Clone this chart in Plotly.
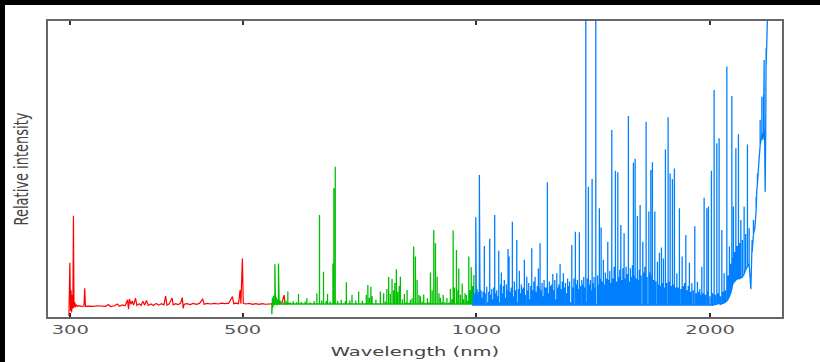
import math
import plotly.graph_objects as go

# ---------------- data (wavelength in nm, relative intensity) ----------------
red_nm = [
    298.8, 299.6, 300.2, 300.7, 301.2, 301.8, 302.3, 302.8, 303.3, 303.9,
    304.6, 305.4, 306.5, 308.0, 310.0, 312.4, 313.1, 313.8, 317.0, 321.0,
    325.0, 329.0, 333.0, 336.0, 338.0, 342.0, 345.0, 347.0, 350.0, 353.0,
    355.5, 356.5, 357.5, 359.0, 360.5, 362.0, 364.0, 365.5, 368.0, 370.0,
    372.0, 374.0, 376.0, 378.0, 381.0, 384.0, 387.0, 390.0, 393.0, 396.0,
    398.0, 399.5, 402.0, 405.7, 407.0, 410.0, 413.0, 416.0, 418.2, 419.2,
    420.5, 424.0, 428.0, 432.0, 436.0, 440.0, 444.3, 446.0, 450.0, 455.0,
    460.0, 465.0, 470.0, 475.0, 480.0, 485.2, 487.0, 490.0, 494.0, 496.3,
    497.5, 499.7, 501.0, 505.0, 510.0, 515.0, 520.0, 525.0, 530.0, 535.0,
    540.0, 545.0, 550.0, 555.0, 558.0, 562.0, 565.5, 567.0, 571.0, 575.0]
red_int = [
    0.3, 18.3, 2.0, 9.0, 1.5, 7.4, 2.8, 34.2, 3.2, 5.0,
    3.3, 4.2, 3.6, 3.8, 3.6, 3.7, 9.7, 3.6, 3.7, 3.6,
    3.8, 3.7, 3.6, 4.2, 3.5, 3.8, 4.4, 3.6, 4.1, 3.8,
    5.8, 2.6, 6.1, 4.3, 5.4, 4.0, 6.4, 3.9, 4.5, 3.9,
    5.3, 4.0, 5.6, 3.9, 4.4, 3.9, 4.6, 4.0, 4.5, 4.1,
    7.1, 4.0, 4.4, 6.4, 4.1, 4.5, 4.2, 4.6, 6.6, 2.9,
    4.3, 4.5, 4.2, 4.6, 4.3, 4.6, 6.1, 4.3, 4.6, 4.4,
    4.6, 4.4, 4.7, 4.5, 4.7, 6.9, 4.5, 4.7, 4.5, 9.1,
    4.5, 19.8, 4.6, 4.4, 4.6, 4.3, 4.5, 4.3, 4.5, 4.3,
    4.4, 4.3, 4.5, 5.3, 4.4, 5.0, 7.4, 4.4, 4.6, 4.5]

green_nm = [
    545.3, 546.3, 547.1, 548.0, 548.8, 550.2, 551.2, 552.4, 553.7, 554.8,
    556.1, 557.3, 558.9, 560.6, 562.2, 563.9, 565.6, 567.3, 568.9, 571.8,
    573.2, 575.8, 578.4, 581.0, 584.4, 587.0, 590.2, 592.3, 594.9, 598.5,
    602.0, 605.0, 607.4, 611.0, 614.6, 618.3, 621.0, 623.2, 625.7, 628.1,
    629.9, 632.2, 635.6, 637.8, 640.7, 643.2, 645.5, 648.4, 651.3, 653.6,
    655.4, 658.1, 660.0, 663.0, 666.0, 669.9, 674.0, 678.1, 680.1, 683.2,
    687.1, 691.6, 695.3, 699.5, 705.4, 708.8, 713.1, 717.3, 721.6, 724.9,
    728.1, 731.4, 734.0, 738.0, 742.4, 747.8, 752.2, 755.6, 759.7, 763.5,
    766.9, 771.0, 774.9, 778.8, 782.5, 785.3, 788.8, 791.9, 795.5, 798.3,
    803.1, 807.8, 811.5, 814.4, 818.7, 822.3, 826.5, 830.4, 834.7, 838.9,
    843.4, 847.1, 851.4, 855.5, 859.8, 864.9, 868.8, 872.7, 877.1, 881.4,
    885.8, 890.3, 895.1, 898.9, 902.9, 906.2, 911.0, 916.4, 921.9, 926.0,
    930.1, 933.5, 937.1, 942.7, 946.9, 949.2, 954.0, 958.8, 962.5, 966.9,
    971.2, 974.7, 977.9, 981.4, 984.9, 988.8, 992.6, 996.2, 1000.0]
green_int = [
    0.9, 6.5, 3.2, 7.2, 4.0, 17.8, 4.2, 6.8, 3.9, 6.0,
    18.1, 4.3, 5.6, 4.2, 5.0, 4.4, 5.2, 4.3, 5.5, 8.6,
    4.4, 5.0, 4.3, 5.3, 4.4, 5.0, 7.8, 4.4, 5.1, 4.3,
    5.2, 6.3, 4.4, 5.0, 4.3, 5.4, 4.4, 8.0, 4.5, 34.5,
    4.6, 5.6, 15.3, 4.5, 5.4, 7.8, 4.5, 5.2, 4.6, 18.1,
    43.5, 50.8, 4.6, 5.4, 4.4, 5.8, 4.5, 5.3, 11.7, 4.5,
    5.6, 7.4, 4.4, 5.6, 8.6, 4.5, 5.5, 4.4, 7.5, 10.8,
    6.5, 10.2, 7.0, 4.6, 5.8, 4.5, 8.6, 4.6, 8.0, 5.2,
    9.5, 13.5, 7.8, 12.8, 9.0, 11.5, 16.1, 8.5, 10.5, 13.6,
    6.0, 7.8, 5.0, 9.1, 4.8, 5.8, 6.3, 23.8, 20.4, 12.5,
    7.5, 7.0, 5.2, 7.6, 4.8, 6.3, 5.0, 15.0, 9.0, 29.4,
    24.9, 13.6, 8.0, 6.5, 5.0, 7.4, 5.0, 6.4, 4.9, 9.5,
    6.0, 29.2, 10.0, 22.6, 9.0, 16.4, 7.5, 11.3, 6.0, 8.0,
    7.4, 5.5, 20.4, 9.0, 16.8, 10.5, 14.2, 7.0, 5.0]
green_floor = 4.4

blue_nm = [
    989.4, 991.7, 994.0, 996.2, 998.3, 1000.0, 1002.1, 1004.5, 1006.6, 1008.9,
    1011.0, 1014.0, 1017.0, 1020.0, 1023.9, 1026.7, 1031.3, 1034.3, 1037.4, 1040.4,
    1043.6, 1046.7, 1049.7, 1052.8, 1055.9, 1059.2, 1062.3, 1065.5, 1068.6, 1071.8,
    1074.4, 1076.9, 1080.1, 1083.3, 1086.5, 1089.8, 1093.0, 1095.9, 1098.5, 1101.8,
    1105.1, 1109.0, 1112.7, 1116.0, 1119.2, 1123.3, 1127.3, 1130.6, 1133.3, 1136.0,
    1139.4, 1142.8, 1146.2, 1149.6, 1153.0, 1156.4, 1161.2, 1164.7, 1168.1, 1171.6,
    1175.0, 1178.5, 1182.0, 1185.9, 1190.2, 1193.7, 1198.0, 1201.9, 1205.1, 1207.9,
    1211.5, 1215.1, 1218.7, 1222.3, 1226.0, 1230.4, 1234.4, 1238.0, 1241.7, 1245.4,
    1249.9, 1254.3, 1258.0, 1261.7, 1265.5, 1269.3, 1273.0, 1277.2, 1281.8, 1285.6,
    1290.2, 1294.4, 1298.2, 1302.1, 1305.9, 1310.6, 1314.4, 1318.3, 1322.4, 1327.1,
    1331.0, 1335.3, 1341.3, 1345.3, 1349.3, 1353.2, 1357.2, 1361.3, 1367.0, 1371.0,
    1375.0, 1379.1, 1383.4, 1386.7, 1389.9, 1394.0, 1398.1, 1402.3, 1406.1, 1409.4,
    1413.6, 1417.7, 1421.1, 1425.0, 1429.2, 1432.6, 1435.9, 1440.1, 1444.2, 1447.6,
    1451.9, 1457.5, 1461.7, 1466.1, 1471.3, 1476.5, 1480.9, 1485.2, 1489.8, 1494.2,
    1498.6, 1504.4, 1507.0, 1510.3, 1515.7, 1521.1, 1525.6, 1530.1, 1534.7, 1539.2,
    1544.2, 1549.7, 1554.4, 1559.0, 1564.6, 1569.6, 1574.3, 1579.0, 1583.7, 1588.4,
    1593.1, 1597.3, 1601.2, 1606.9, 1612.1, 1616.9, 1621.2, 1625.1, 1629.9, 1638.1,
    1643.0, 1648.3, 1654.3, 1659.2, 1667.5, 1672.4, 1677.5, 1681.5, 1685.4, 1691.4,
    1697.4, 1703.0, 1710.6, 1715.7, 1720.7, 1725.9, 1731.1, 1736.2, 1741.3, 1746.4,
    1751.8, 1758.0, 1765.8, 1771.0, 1776.3, 1782.6, 1788.4, 1793.7, 1799.0, 1805.6,
    1812.0, 1819.0, 1825.9, 1833.6, 1840.7, 1847.2, 1854.2, 1861.0, 1868.1, 1874.8,
    1880.8, 1887.7, 1894.4, 1902.8, 1911.2, 1918.7, 1926.1, 1932.9, 1939.7, 1945.6,
    1951.4, 1957.8, 1964.7, 1972.4, 1980.5, 1985.2, 1989.9, 1998.7, 2007.7, 2015.4,
    2023.8, 2031.7, 2040.2, 2046.8, 2054.0, 2062.0, 2070.6, 2077.3, 2084.7, 2092.9,
    2101.6, 2109.6, 2117.7, 2125.5, 2133.0, 2138.1, 2143.1, 2150.7, 2158.5, 2166.8,
    2175.1, 2182.8, 2190.6, 2201.0, 2212.1, 2222.1, 2234.0, 2245.2, 2256.7, 2265.4,
    2274.1, 2283.4, 2292.4, 2297.1, 2301.2, 2310.7, 2319.8, 2326.7, 2331.5, 2335.0,
    2338.4, 2343.2, 2347.4, 2350.8, 2354.4, 2357.9, 2361.4, 2367.7, 2373.3, 2378.9,
    2383.8]
blue_int = [
    6.0, 9.0, 7.0, 8.0, 33.7, 5.5, 9.5, 7.5, 8.5, 48.0,
    7.0, 9.0, 6.5, 8.5, 24.0, 8.0, 10.2, 5.0, 8.5, 26.4,
    7.5, 9.5, 6.0, 10.0, 34.5, 8.0, 9.0, 7.0, 22.4, 5.0,
    11.0, 15.0, 8.0, 10.5, 12.5, 6.5, 11.0, 9.0, 23.0, 20.4,
    8.5, 10.0, 32.2, 7.0, 12.0, 9.0, 26.0, 5.0, 9.5, 15.6,
    8.0, 11.0, 9.5, 10.0, 19.3, 7.5, 13.6, 9.0, 11.5, 6.0,
    10.5, 23.2, 9.0, 12.0, 13.6, 8.5, 10.5, 16.4, 10.0, 24.9,
    9.0, 11.5, 7.0, 12.5, 10.0, 10.0, 45.5, 8.0, 12.0, 10.5,
    11.0, 14.5, 9.0, 12.5, 6.0, 14.8, 10.0, 11.0, 17.9, 9.5,
    12.0, 14.8, 10.0, 11.5, 8.0, 13.0, 10.5, 12.0, 5.0, 24.3,
    10.0, 13.0, 28.8, 11.0, 12.5, 9.5, 28.6, 10.5, 12.5, 11.0,
    13.5, 10.0, 112.0, 5.0, 13.0, 44.0, 11.0, 12.5, 9.0, 46.6,
    11.5, 13.5, 10.0, 105.0, 4.5, 14.0, 11.0, 36.7, 13.0, 30.2,
    12.0, 19.3, 11.0, 15.0, 13.0, 25.4, 12.5, 15.5, 11.5, 63.2,
    13.0, 17.0, 14.0, 49.4, 12.0, 48.9, 13.5, 16.0, 31.1, 12.5,
    16.5, 28.3, 13.0, 17.0, 14.5, 67.9, 12.0, 16.5, 13.5, 17.5,
    52.1, 14.0, 53.5, 13.0, 34.1, 12.5, 16.0, 37.8, 14.0, 25.4,
    15.0, 17.0, 66.0, 13.5, 35.6, 15.0, 49.7, 14.0, 52.3, 12.5,
    35.6, 12.0, 18.7, 11.0, 21.7, 10.5, 23.5, 11.5, 19.8, 10.0,
    56.6, 11.5, 67.5, 12.0, 48.5, 10.5, 46.6, 11.0, 50.2, 10.0,
    14.8, 10.0, 36.7, 9.5, 20.4, 10.5, 11.5, 27.7, 9.0, 10.5,
    18.3, 8.5, 11.4, 9.0, 30.7, 8.0, 11.9, 8.5, 9.5, 7.5,
    17.0, 8.0, 40.3, 7.5, 36.7, 8.5, 37.3, 7.0, 49.4, 8.0,
    76.7, 7.5, 58.7, 8.0, 60.4, 7.0, 29.4, 8.5, 14.8, 9.0,
    84.6, 14.0, 23.8, 18.0, 74.7, 20.0, 37.3, 22.0, 57.0, 24.0,
    61.7, 25.0, 32.8, 26.0, 37.3, 28.0, 58.3, 30.0, 9.4, 26.0,
    32.8, 30.0, 40.6, 43.0, 48.5, 52.0, 66.6, 60.0, 74.4, 62.0,
    59.8, 75.0, 86.8, 60.0, 42.3, 70.0, 90.8, 96.0, 115.0, 118.0,
    125.0]
blue_floor = [
    4.0, 4.0, 4.0, 4.0, 4.0, 4.0, 4.0, 4.0, 4.0, 4.0,
    4.0, 4.0, 4.0, 4.0, 4.0, 4.0, 4.0, 4.0, 4.0, 4.0,
    4.0, 4.0, 4.0, 4.0, 4.0, 4.0, 4.0, 4.0, 4.0, 4.0,
    4.0, 4.0, 4.0, 4.0, 4.0, 4.0, 4.0, 4.0, 4.0, 4.0,
    4.0, 4.0, 4.0, 4.0, 4.0, 4.0, 4.0, 4.0, 4.0, 4.0,
    4.0, 4.0, 4.0, 4.0, 4.0, 4.0, 4.0, 4.0, 4.0, 4.0,
    4.0, 4.0, 4.0, 4.0, 4.0, 4.0, 4.0, 4.0, 4.0, 4.0,
    4.0, 4.0, 4.0, 4.0, 4.0, 4.0, 4.0, 4.0, 4.0, 4.0,
    4.0, 4.0, 4.0, 4.0, 4.0, 4.0, 4.0, 4.0, 4.0, 4.0,
    4.0, 4.0, 4.0, 4.0, 4.0, 4.0, 4.0, 4.0, 4.0, 4.0,
    4.0, 4.0, 4.0, 4.0, 4.0, 4.0, 4.0, 4.0, 4.0, 4.0,
    4.0, 4.0, 4.0, 4.0, 4.0, 4.0, 4.0, 4.0, 4.0, 4.0,
    4.0, 4.0, 4.0, 4.0, 4.0, 4.0, 4.0, 4.0, 4.0, 4.0,
    4.0, 4.0, 4.0, 4.0, 4.0, 4.0, 4.0, 4.0, 4.0, 4.0,
    4.0, 4.0, 4.0, 4.0, 4.0, 4.0, 4.0, 4.0, 4.0, 4.0,
    4.0, 4.0, 4.0, 4.0, 4.0, 4.0, 4.0, 4.0, 4.0, 4.0,
    4.0, 4.0, 4.0, 4.0, 4.0, 4.0, 4.0, 4.0, 4.0, 4.0,
    4.0, 4.0, 4.0, 4.0, 4.0, 4.0, 4.0, 4.0, 4.0, 4.0,
    4.0, 4.0, 4.0, 4.0, 4.0, 4.0, 4.0, 4.0, 4.0, 4.0,
    4.0, 4.0, 4.0, 4.0, 4.0, 4.0, 4.0, 4.0, 4.0, 4.0,
    4.0, 4.0, 4.0, 4.0, 4.0, 4.0, 4.0, 4.0, 4.0, 4.0,
    4.0, 4.0, 4.0, 4.0, 4.0, 4.0, 4.0, 4.0, 4.0, 4.0,
    4.0, 4.0, 4.0, 4.0, 4.0, 4.0, 4.0, 4.0, 4.0, 4.0,
    4.2, 4.2, 4.3, 4.5, 4.5, 4.3, 4.5, 4.6, 4.8, 5.0,
    5.5, 6.0, 7.0, 8.0, 9.5, 11.0, 11.5, 12.0, 12.5, 12.8,
    13.0, 13.0, 13.2, 13.5, 14.5, 16.0, 17.0, 18.0, 9.4, 22.0,
    28.0, 30.0, 36.0, 43.0, 45.0, 52.0, 58.0, 60.0, 62.0, 62.0,
    59.8, 62.0, 64.0, 60.0, 42.3, 60.0, 85.0, 96.0, 110.0, 118.0,
    125.0]

tick_vals = [300, 500, 1000, 2000]
tick_text = ["300", "500", "1000", "2000"]
x_range_nm = [280.8, 2475.0]
y_range = [0, 100]


def stick_path(nm, vals, floor):
    """Each sample drawn as a vertical stroke rising from the local floor."""
    xs, ys = [], []
    for i, (x, v) in enumerate(zip(nm, vals)):
        f = floor[i] if isinstance(floor, list) else floor
        xs += [x, x, x]
        ys += [f, v, f]
    return xs, ys


# ---------------- figure ----------------
W, H = 820, 362
ML, MR, MT, MB = 48, 38, 21, 45
PW, PH = W - ML - MR, H - MT - MB

fig = go.Figure()
fig.add_trace(go.Scatter(x=red_nm, y=red_int, mode="lines",
                         line=dict(color="#ff0000", width=1.2),
                         hoverinfo="skip", showlegend=False))
gx, gy = stick_path(green_nm, green_int, green_floor)
fig.add_trace(go.Scatter(x=gx, y=gy, mode="lines",
                         line=dict(color="#00c000", width=1.3),
                         hoverinfo="skip", showlegend=False))
bx, by = stick_path(blue_nm, blue_int, blue_floor)
fig.add_trace(go.Scatter(x=bx, y=by, mode="lines",
                         line=dict(color="#0080ff", width=1.3),
                         hoverinfo="skip", showlegend=False))

font_family = "DejaVu Sans"
fig.update_layout(
    width=W, height=H,
    margin=dict(l=ML, r=MR, t=MT, b=MB, pad=0),
    paper_bgcolor="white", plot_bgcolor="white",
    showlegend=False,
    font=dict(family=font_family, size=13, color="#444"),
    xaxis=dict(
        type="log",
        range=[math.log10(x_range_nm[0]), math.log10(x_range_nm[1])],
        tickvals=tick_vals, ticktext=tick_text,
        ticks="inside", ticklen=4, tickwidth=1.5, tickcolor="#333",
        showline=True, linecolor="#666", linewidth=1.5, mirror="ticks",
        showgrid=False, zeroline=False,
        tickfont=dict(family=font_family, size=13, color="#555"),
        title=dict(text="Wavelength (nm)", standoff=11,
                   font=dict(family=font_family, size=13, color="#444")),
        automargin=False,
    ),
    yaxis=dict(
        range=y_range, showticklabels=False, ticks="",
        showline=True, linecolor="#666", linewidth=1.5, mirror=True,
        showgrid=False, zeroline=False,
        title=dict(text="Relative intensity", standoff=17,
                   font=dict(family=font_family, size=13, color="#444")),
        automargin=False,
    ),
    shapes=[
        dict(type="rect", xref="paper", yref="paper", layer="above",
             x0=-ML / PW, x1=(-ML + 5) / PW, y0=-MB / PH, y1=1 + MT / PH,
             fillcolor="black", line=dict(width=0)),
        dict(type="rect", xref="paper", yref="paper", layer="above",
             x0=-ML / PW, x1=1 + MR / PW, y0=1 + (MT - 5) / PH, y1=1 + MT / PH,
             fillcolor="black", line=dict(width=0)),
    ],
)

stretch_js = r"""
(function(){
  var gd = document.querySelector('.plotly-graph-div');
  var S = 1.5;
  function stretch(){
    var nodes = gd.querySelectorAll('g.xtick text, text.xtitle, text.ytitle');
    nodes.forEach(function(t){
      var cur = t.getAttribute('transform') || '';
      if (t.__st && cur === t.__st) return;
      var bb = t.getBBox();
      var add;
      if (t.classList.contains('ytitle')) {
        var cy = bb.y + bb.height / 2;
        add = ' translate(0,' + cy + ') scale(1,' + S + ') translate(0,' + (-cy) + ')';
      } else {
        var cx = bb.x + bb.width / 2;
        add = ' translate(' + cx + ',0) scale(' + S + ',1) translate(' + (-cx) + ',0)';
      }
      t.__st = cur + add;
      t.setAttribute('transform', t.__st);
    });
  }
  stretch();
  if (gd.on) gd.on('plotly_afterplot', stretch);
})();
"""

fig.write_html("out.html", post_script=stretch_js, config={"displayModeBar": False})
